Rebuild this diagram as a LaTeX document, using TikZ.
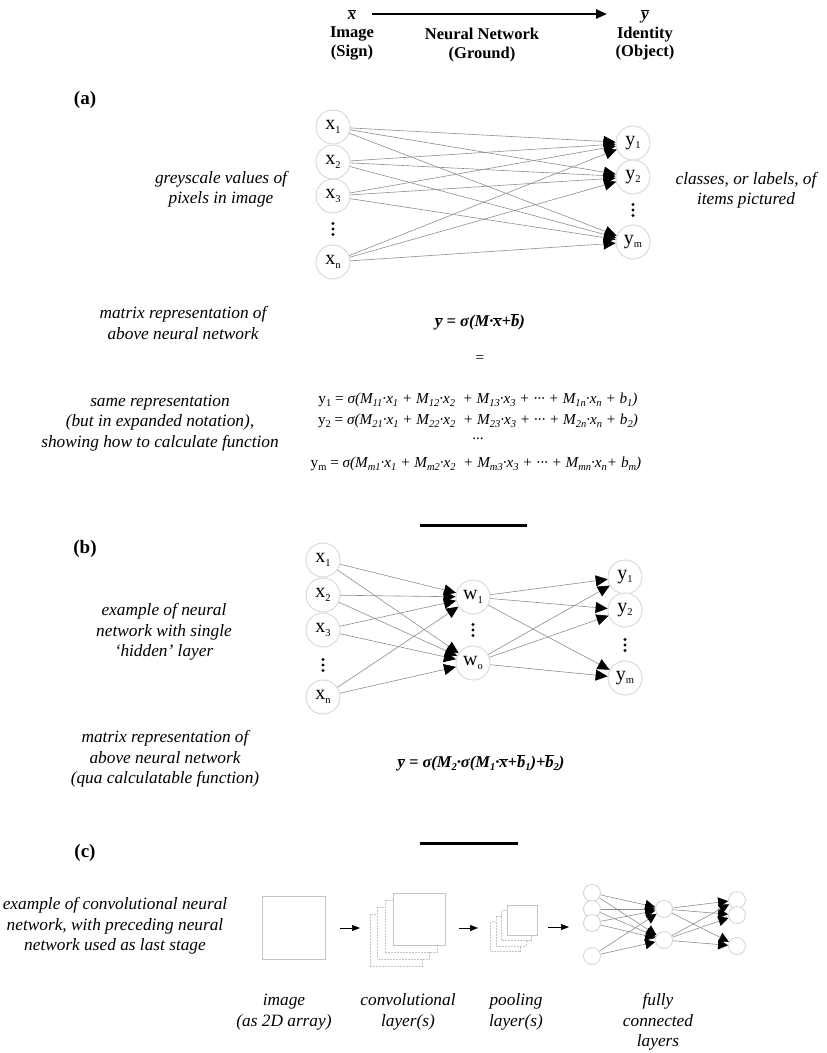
\documentclass[tikz,border=0pt]{standalone}
\usepackage{fontspec}
\setmainfont{Liberation Serif}
\usetikzlibrary{arrows.meta}
\newcommand\lo[1]{\raisebox{-0.35ex}{\fontsize{10.5}{10.5}\selectfont #1}}
\newcommand\ob[1]{\ensuremath{\overline{\hbox{#1}}}}
\definecolor{circ}{HTML}{D6D6D6}
\definecolor{edg}{HTML}{8E8E8E}
\definecolor{sqc}{HTML}{C4C4C4}
\tikzset{
  neuron/.style={circle, draw=circ, line width=0.9pt, minimum size=34pt, inner sep=0pt, fill=white, font=\fontsize{20}{20}\selectfont},
  sneuron/.style={circle, draw=circ, line width=0.9pt, minimum size=17pt, inner sep=0pt, fill=white},
  edge/.style={draw=edg, line width=0.6pt, -{Triangle[length=12pt,width=11pt,color=black]}},
  sedge/.style={draw=edg, line width=0.6pt, -{Triangle[length=10pt,width=10pt,color=black]}},
  carrow/.style={draw=black, line width=0.6pt, -{Triangle[length=8pt,width=6pt,color=black]}},
  note/.style={align=center, font=\fontsize{17.3}{20.5}\selectfont\itshape},
  head/.style={align=center, font=\fontsize{16.5}{18.5}\selectfont\bfseries},
  plabel/.style={font=\fontsize{19}{19}\selectfont\bfseries},
  eqn/.style={font=\fontsize{15.2}{16}\selectfont},
  beqn/.style={font=\fontsize{16.5}{16}\selectfont\bfseries\itshape},
  sq/.style={draw=sqc, line width=0.8pt, fill=white, inner sep=0pt},
  dsq/.style={sq, dashed, dash pattern=on 2pt off 1pt},
  sep/.style={draw=black, line width=3pt},
}
\newcommand\vdotsat[1]{\fill (#1) ++(0,-5.5) circle (1.7) (#1) circle (1.7) (#1) ++(0,5.5) circle (1.7);}
\begin{document}
\begin{tikzpicture}[x=1pt,y=-1pt]
\useasboundingbox (0,0) rectangle (827,1053);
% header
\node[head] (src) at (352,35) {\itshape\ob{x}\\Image\\(Sign)};
\node[head] (dst) at (645,35) {\itshape\ob{y}\\Identity\\(Object)};
\node[head] (nn) at (482,45) {Neural Network\\(Ground)};
\coordinate (hs) at (372,14);
\coordinate (he) at (607,14);
\draw[line width=2.6pt, -{Triangle[length=11pt,width=9pt]}] (hs) -- (he);

% (a)
\node[plabel] (la) at (85,100) {(a)};
\foreach \n/\yy/\lab in {x1/127/1, x2/162/2, x3/196/3, xn/262/n}
  \node[neuron] (a\n) at (333,\yy) {x\lo{\lab}};
\coordinate (axd) at (333,229);
\vdotsat{axd}
\foreach \n/\yy/\lab in {y1/143/1, y2/177/2, ym/242/m}
  \node[neuron] (a\n) at (633,\yy) {y\lo{\lab}};
\coordinate (ayd) at (633,210);
\vdotsat{ayd}
\foreach \s in {x1,x2,x3,xn}
  \foreach \t in {y1,y2,ym}
    \draw[edge] (a\s) -- (a\t);
\node[note] (ga) at (221,189) {greyscale values of\\pixels in image};
\node[note] (ca) at (746,190) {classes, or labels, of\\items pictured};
\node[note] (ma) at (183,323) {matrix representation of\\above neural network};
\node[beqn] (eqa) at (480,322) {\ob{y} = σ(M·\ob{x}+\ob{b})};
\node[eqn] (eqeq) at (480,359) {=};
\node[eqn] (r1) at (478,400) {y\lo{1} = \textit{σ(M\lo{11}·x\lo{1} + M\lo{12}·x\lo{2}~ + M\lo{13}·x\lo{3} + ··· + M\lo{1n}·x\lo{n} + b\lo{1})}};
\node[eqn] (r2) at (478,421) {y\lo{2} = \textit{σ(M\lo{21}·x\lo{1} + M\lo{22}·x\lo{2}~ + M\lo{23}·x\lo{3} + ··· + M\lo{2n}·x\lo{n} + b\lo{2})}};
\node[eqn] (rd) at (478,439) {...};
\node[eqn] (rm) at (476,464) {y\lo{m} = \textit{σ(M\lo{m1}·x\lo{1} + M\lo{m2}·x\lo{2}~ + M\lo{m3}·x\lo{3} + ··· + M\lo{mn}·x\lo{n}+ b\lo{m})}};
\node[note] (sa) at (160,423) {same representation\\(but in expanded notation),\\showing how to calculate function};

% separator 1
\coordinate (s1a) at (420,525);
\coordinate (s1b) at (527,525);
\draw[sep] (s1a) -- (s1b);

% (b)
\node[plabel] (lb) at (85,549) {(b)};
\foreach \n/\yy/\lab in {x1/560/1, x2/595/2, x3/630/3, xn/697/n}
  \node[neuron] (b\n) at (323,\yy) {x\lo{\lab}};
\coordinate (bxd) at (323,665);
\vdotsat{bxd}
\foreach \n/\yy/\lab in {w1/597/1, wo/663/o}
  \node[neuron] (b\n) at (473,\yy) {w\lo{\lab}};
\coordinate (bwd) at (473,630);
\vdotsat{bwd}
\foreach \n/\yy/\lab in {y1/577/1, y2/610/2, ym/678/m}
  \node[neuron] (b\n) at (625,\yy) {y\lo{\lab}};
\coordinate (byd) at (625,645);
\vdotsat{byd}
\foreach \s in {x1,x2,x3,xn}
  \foreach \t in {w1,wo}
    \draw[edge] (b\s) -- (b\t);
\foreach \s in {w1,wo}
  \foreach \t in {y1,y2,ym}
    \draw[edge] (b\s) -- (b\t);
\node[note] (eb) at (164,632) {example of neural\\network with single\\‘hidden’ layer};
\node[note] (mb) at (165,759) {matrix representation of\\above neural network\\(qua calculatable function)};
\node[beqn] (eqb) at (481,763) {\ob{y} = σ(M\lo{2}·σ(M\lo{1}·\ob{x}+\ob{b}\lo{1})+\ob{b}\lo{2})};

% separator 2
\coordinate (s2a) at (420,843);
\coordinate (s2b) at (518,843);
\draw[sep] (s2a) -- (s2b);

% (c)
\node[plabel] (lc) at (85,853) {(c)};
\node[note] (ec) at (115,926) {example of convolutional neural\\network, with preceding neural\\network used as last stage};
% image
\node[sq, minimum size=63pt] (img) at (293.5,928) {};
% conv stack
\foreach \i in {3,2,1}
  \node[dsq, minimum size=52pt] (cv\i) at ({419-7.6*\i},{919+7*\i}) {};
\node[sq, minimum size=52pt] (cv0) at (419,919) {};
% pooling stack
\foreach \i in {3,2,1}
  \node[dsq, minimum size=30pt] (pl\i) at ({522-5.5*\i},{920+5.6*\i}) {};
\node[sq, minimum size=30pt] (pl0) at (522,920) {};
% arrows
\coordinate (c1a) at (340,928); \coordinate (c1b) at (360,928);
\coordinate (c2a) at (459,928); \coordinate (c2b) at (478,928);
\coordinate (c3a) at (548,927); \coordinate (c3b) at (569,927);
\draw[carrow] (c1a) -- (c1b);
\draw[carrow] (c2a) -- (c2b);
\draw[carrow] (c3a) -- (c3b);
% fully connected
\foreach \n/\yy in {i1/893, i2/909, i3/923, i4/956}
  \node[sneuron] (f\n) at (592,\yy) {};
\foreach \n/\yy in {h1/909, h2/940}
  \node[sneuron] (f\n) at (664,\yy) {};
\foreach \n/\yy in {o1/900, o2/915, o3/946}
  \node[sneuron] (f\n) at (737,\yy) {};
\foreach \s in {i1,i2,i3,i4}
  \foreach \t in {h1,h2}
    \draw[sedge] (f\s) -- (f\t);
\foreach \s in {h1,h2}
  \foreach \t in {o1,o2,o3}
    \draw[sedge] (f\s) -- (f\t);
% captions
\node[note] (t1) at (284,1012) {image\\(as 2D array)};
\node[note] (t2) at (408,1012) {convolutional\\layer(s)};
\node[note] (t3) at (516,1012) {pooling\\layer(s)};
\node[note] (t4) at (658,1022) {fully\\connected\\layers};
\end{tikzpicture}
\end{document}
